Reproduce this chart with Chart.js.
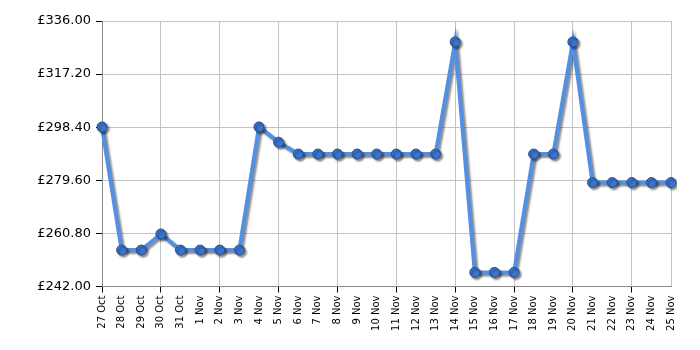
<!DOCTYPE html>
<html>
<head>
<meta charset="utf-8">
<script src="https://cdn.jsdelivr.net/npm/chart.js@4"></script>
<style>
  html, body { margin: 0; padding: 0; background: #fff; }
  #wrap { width: 700px; height: 350px; }
</style>
</head>
<body>
<div id="wrap"><canvas id="price-chart"></canvas></div>
<script>
// price history
const dates = ["27 Oct", "28 Oct", "29 Oct", "30 Oct", "31 Oct", "1 Nov", "2 Nov", "3 Nov",
  "4 Nov", "5 Nov", "6 Nov", "7 Nov", "8 Nov", "9 Nov", "10 Nov", "11 Nov", "12 Nov", "13 Nov",
  "14 Nov", "15 Nov", "16 Nov", "17 Nov", "18 Nov", "19 Nov", "20 Nov", "21 Nov", "22 Nov",
  "23 Nov", "24 Nov", "25 Nov"];
const prices = [298.5, 254.9, 254.9, 260.6, 254.9, 254.9, 254.9, 254.9,
  298.5, 293.1, 288.9, 288.9, 288.9, 288.9, 288.9, 288.9, 288.9, 288.9,
  328.6, 247.0, 247.0, 247.0, 288.9, 288.9, 328.6, 278.8, 278.8,
  278.8, 278.8, 278.8];
const yTicks = [242, 260.8, 279.6, 298.4, 317.2, 336];

const shadowPlugin = {
  id: "lineShadow",
  beforeDatasetDraw(chart) {
    const c = chart.ctx;
    c.save();
    c.shadowColor = "rgba(0, 0, 0, 0.45)";
    c.shadowBlur = 2;
    c.shadowOffsetX = 2;
    c.shadowOffsetY = 2;
  },
  afterDatasetDraw(chart) {
    chart.ctx.restore();
  }
};

document.addEventListener("DOMContentLoaded", function () {
  const ctx = document.getElementById("price-chart").getContext("2d");
  new Chart(ctx, {
    type: "line",
    data: {
      labels: dates,
      datasets: [{
        data: prices,
        borderColor: "#5290e4",
        borderWidth: 4,
        tension: 0,
        fill: false,
        pointBackgroundColor: "#3a74cc",
        pointBorderColor: "#28508f",
        pointBorderWidth: 1,
        pointRadius: 5,
        pointHoverRadius: 5
      }]
    },
    options: {
      responsive: true,
      maintainAspectRatio: false,
      animation: false,
      layout: { padding: { left: 0, top: 21, right: 29, bottom: 0 } },
      scales: {
        x: {
          offset: false,
          border: { color: "#8a8a8a", width: 1 },
          grid: {
            color: (c) => (c.index % 3 === 0 || c.index === dates.length - 1) ? "#c4c4c4" : "rgba(0,0,0,0)",
            tickColor: (c) => (c.index % 3 === 0) ? "#000" : "rgba(0,0,0,0)",
            tickLength: 6
          },
          ticks: {
            autoSkip: false,
            maxRotation: 90,
            minRotation: 90,
            padding: 3,
            color: "#000",
            font: { family: "DejaVu Sans", size: 10 }
          },
          afterFit: (s) => { s.height = 63.5; }
        },
        y: {
          min: 242,
          max: 336,
          afterBuildTicks: (s) => { s.ticks = yTicks.map(v => ({ value: v })); },
          border: { color: "#8a8a8a", width: 1 },
          grid: { color: "#c4c4c4", tickColor: "#000", tickLength: 6 },
          ticks: {
            padding: 5,
            color: "#000",
            font: { family: "DejaVu Sans", size: 13 },
            callback: (v) => "£" + Number(v).toFixed(2)
          },
          afterFit: (s) => { s.width = 102; }
        }
      },
      plugins: {
        legend: { display: false },
        tooltip: { enabled: false }
      }
    },
    plugins: [shadowPlugin]
  });
});
</script>
</body>
</html>
